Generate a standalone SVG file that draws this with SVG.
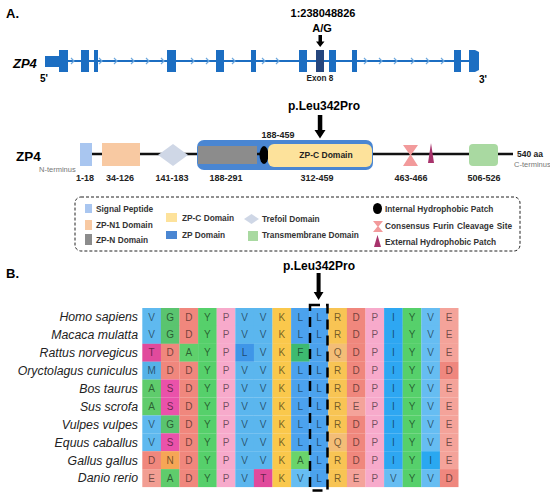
<svg xmlns="http://www.w3.org/2000/svg" width="550" height="497" viewBox="0 0 550 497">
<defs>
<style>
text{font-family:"Liberation Sans",Arial,sans-serif}
.b{font-weight:bold}
.ex{fill:#1c6ec2}
.chev{fill:none;stroke:#6ea8dd;stroke-width:1.2}
.lab{font-size:9px;font-weight:bold;fill:#222;text-anchor:middle}
.leg{font-size:8.3px;font-weight:bold;fill:#333}
.sp{font-size:12.3px;font-style:italic;fill:#222;text-anchor:end}
.aa{font-size:10px;fill:#000;fill-opacity:0.55;text-anchor:middle}
.gray{font-size:7.5px;fill:#777}
</style>
</defs>
<rect width="550" height="497" fill="#fff"/>

<g id="panelA-title"><text x="6" y="18" class="b" font-size="13">A.</text></g>

<g id="gene">
<text x="13" y="68" class="b" font-size="13" font-style="italic">ZP4</text>
<line x1="45" y1="61" x2="476" y2="61" stroke="#1c6ec2" stroke-width="2"/>
<rect class="ex" x="45" y="56" width="15" height="11"/>
<rect class="ex" x="59" y="50" width="9" height="22"/>
<rect class="ex" x="81" y="50" width="8" height="22"/>
<rect class="ex" x="94" y="50" width="4" height="22"/>
<rect class="ex" x="167" y="50" width="9" height="22"/>
<rect class="ex" x="216" y="50" width="8" height="22"/>
<rect class="ex" x="251" y="50" width="5" height="22"/>
<rect class="ex" x="299" y="50" width="8" height="22"/>
<rect x="316" y="50" width="8" height="22" fill="#25467e"/>
<rect class="ex" x="329" y="50" width="7" height="22"/>
<rect class="ex" x="352" y="50" width="5" height="22"/>
<rect class="ex" x="454" y="50" width="7" height="22"/>
<path class="ex" d="M469 50 H475 L479 52 V70 L475 72 H469 Z"/>
<g>
<polyline class="chev" points="71,58 74,61 71,64"/>
<polyline class="chev" points="99,58 102,61 99,64"/>
<polyline class="chev" points="114,58 117,61 114,64"/>
<polyline class="chev" points="131,58 134,61 131,64"/>
<polyline class="chev" points="146,58 149,61 146,64"/>
<polyline class="chev" points="161,58 164,61 161,64"/>
<polyline class="chev" points="191,58 194,61 191,64"/>
<polyline class="chev" points="206,58 209,61 206,64"/>
<polyline class="chev" points="232,58 235,61 232,64"/>
<polyline class="chev" points="262,58 265,61 262,64"/>
<polyline class="chev" points="276,58 279,61 276,64"/>
<polyline class="chev" points="364,58 367,61 364,64"/>
<polyline class="chev" points="379,58 382,61 379,64"/>
<polyline class="chev" points="394,58 397,61 394,64"/>
<polyline class="chev" points="411,58 414,61 411,64"/>
<polyline class="chev" points="426,58 429,61 426,64"/>
<polyline class="chev" points="441,58 444,61 441,64"/>
</g>
<text x="40" y="82" class="b" font-size="10">5'</text>
<text x="479" y="83" class="b" font-size="10">3'</text>
<text x="320" y="81" class="b" font-size="8.2" text-anchor="middle" fill="#222">Exon 8</text>
<text x="323" y="17" class="b" font-size="11" text-anchor="middle">1:238048826</text>
<text x="322" y="32" class="b" font-size="11" text-anchor="middle">A/G</text>
</g>

<g id="protein">
<text x="16" y="161" class="b" font-size="13.5">ZP4</text>
<text x="39" y="172" class="gray">N-terminus</text>
<line x1="92" y1="154" x2="513" y2="154" stroke="#111" stroke-width="2.5"/>
<rect id="signal" x="80" y="143" width="12" height="23" fill="#a9c6f0"/>
<rect id="zpn1" x="102" y="143" width="38" height="23" fill="#f8c9a2"/>
<polygon id="trefoil" points="158,155 173,144 188,155 173,166" fill="#cfd7e6"/>
<rect id="zp" x="197" y="140" width="176" height="30" rx="7" fill="#4a86d2"/>
<rect id="zpn" x="198" y="146" width="59" height="18" fill="#8c8c8c"/>
<line x1="257" y1="154" x2="262" y2="154" stroke="#111" stroke-width="2.5"/>
<ellipse id="ihp" cx="264" cy="155" rx="4.5" ry="9" fill="#000"/>
<rect id="zpc" x="268" y="144" width="104" height="23" rx="6" fill="#fde29b"/>
<text x="326" y="158" class="b" font-size="8.5" text-anchor="middle" fill="#222">ZP-C Domain</text>
<polygon id="furin" points="403,145 418,145 411,155 418,166 403,166 410,155" fill="#f29a9b"/>
<polygon id="ehp" points="431,143 434,163 428,163" fill="#a8336c"/>
<rect id="tm" x="469" y="144" width="29" height="22" rx="4" fill="#a9d9a1"/>
<text x="517" y="157" class="b" font-size="8.5" fill="#222">540 aa</text>
<text x="514" y="167" class="gray" font-size="6.5">C-terminus</text>
<text x="278" y="138" class="lab">188-459</text>
<text x="85" y="181" class="lab">1-18</text>
<text x="120" y="181" class="lab">34-126</text>
<text x="172" y="181" class="lab">141-183</text>
<text x="226" y="181" class="lab">188-291</text>
<text x="317" y="181" class="lab">312-459</text>
<text x="411" y="181" class="lab">463-466</text>
<text x="484" y="181" class="lab">506-526</text>
<text x="324" y="110" class="b" font-size="12" text-anchor="middle">p.Leu342Pro</text>
</g>

<g id="legend">
<rect x="75" y="197" width="445" height="54" rx="6" fill="none" stroke="#222" stroke-width="1" stroke-dasharray="3 2"/>
<rect x="85" y="204" width="7" height="9" fill="#a9c6f0"/>
<text x="96" y="212" class="leg">Signal Peptide</text>
<rect x="85" y="220" width="7" height="10" fill="#f8c9a2"/>
<text x="96" y="228" class="leg">ZP-N1 Domain</text>
<rect x="85" y="234" width="7" height="11" fill="#8c8c8c"/>
<text x="96" y="243" class="leg">ZP-N Domain</text>
<rect x="166" y="213" width="11" height="9" fill="#fde29b"/>
<text x="182" y="221" class="leg">ZP-C Domain</text>
<rect x="166" y="231" width="11" height="8" fill="#4a86d2"/>
<text x="182" y="238" class="leg">ZP Domain</text>
<polygon points="244,219 251.5,214 259,219 251.5,224" fill="#cfd7e6"/>
<text x="262" y="222" class="leg">Trefoil Domain</text>
<rect x="248" y="231" width="10" height="10" fill="#a9d9a1"/>
<text x="262" y="238" class="leg">Transmembrane Domain</text>
<ellipse cx="377.5" cy="208.5" rx="4.5" ry="5.5" fill="#000"/>
<text x="385" y="212" class="leg">Internal Hydrophobic Patch</text>
<polygon points="373,221 383,221 378.5,226.5 383,232 373,232 377.5,226.5" fill="#f29a9b"/>
<text x="385" y="229" class="leg" word-spacing="1">Consensus Furin Cleavage Site</text>
<polygon points="377.5,235 381,247 374,247" fill="#a8336c"/>
<text x="385" y="245" class="leg">External Hydrophobic Patch</text>
</g>

<g id="panelB-title"><text x="6" y="278" class="b" font-size="13">B.</text>
<text x="319" y="270" class="b" font-size="12" text-anchor="middle">p.Leu342Pro</text></g>

<g id="species">
<text x="138" y="321" class="sp">Homo sapiens</text>
<text x="138" y="339" class="sp">Macaca mulatta</text>
<text x="138" y="357" class="sp">Rattus norvegicus</text>
<text x="138" y="375" class="sp">Oryctolagus cuniculus</text>
<text x="138" y="393" class="sp">Bos taurus</text>
<text x="138" y="411" class="sp">Sus scrofa</text>
<text x="138" y="429" class="sp">Vulpes vulpes</text>
<text x="138" y="447" class="sp">Equus caballus</text>
<text x="138" y="465" class="sp">Gallus gallus</text>
<text x="138" y="482" class="sp">Danio rerio</text>
</g>

<g id="alignment">
<g transform="translate(0,308)">
<rect x="142.3" width="18.7" height="18" fill="#5fb9ef"/><rect x="160.9" width="18.7" height="18" fill="#5ac46f"/><rect x="179.5" width="18.7" height="18" fill="#f0877d"/><rect x="198.1" width="18.7" height="18" fill="#56d06b"/><rect x="216.7" width="18.7" height="18" fill="#f7aacb"/><rect x="235.3" width="18.7" height="18" fill="#5bb6ee"/><rect x="253.9" width="18.7" height="18" fill="#5bb6ee"/><rect x="272.5" width="18.7" height="18" fill="#fac84c"/><rect x="291.1" width="18.7" height="18" fill="#4ba2ee"/><rect x="309.7" width="18.7" height="18" fill="#4ba2ee"/><rect x="328.3" width="18.7" height="18" fill="#f8c454"/><rect x="346.9" width="18.7" height="18" fill="#f0877d"/><rect x="365.5" width="18.7" height="18" fill="#f7aacb"/><rect x="384.1" width="18.7" height="18" fill="#2ea7f2"/><rect x="402.7" width="18.7" height="18" fill="#56d06b"/><rect x="421.3" width="18.7" height="18" fill="#66bdf2"/><rect x="439.9" width="18.6" height="18" fill="#f4a39a"/>
<text y="12.6" class="aa"><tspan x="151.6">V</tspan><tspan x="170.2">G</tspan><tspan x="188.8">D</tspan><tspan x="207.4">Y</tspan><tspan x="226">P</tspan><tspan x="244.6">V</tspan><tspan x="263.2">V</tspan><tspan x="281.8">K</tspan><tspan x="300.4">L</tspan><tspan x="319">L</tspan><tspan x="337.6">R</tspan><tspan x="356.2">D</tspan><tspan x="374.8">P</tspan><tspan x="393.4">I</tspan><tspan x="412">Y</tspan><tspan x="430.6">V</tspan><tspan x="449.2">E</tspan></text>
</g>
<g transform="translate(0,325.9)">
<rect x="142.3" width="18.7" height="18" fill="#5fb9ef"/><rect x="160.9" width="18.7" height="18" fill="#5ac46f"/><rect x="179.5" width="18.7" height="18" fill="#f0877d"/><rect x="198.1" width="18.7" height="18" fill="#56d06b"/><rect x="216.7" width="18.7" height="18" fill="#f7aacb"/><rect x="235.3" width="18.7" height="18" fill="#5bb6ee"/><rect x="253.9" width="18.7" height="18" fill="#5bb6ee"/><rect x="272.5" width="18.7" height="18" fill="#fac84c"/><rect x="291.1" width="18.7" height="18" fill="#4ba2ee"/><rect x="309.7" width="18.7" height="18" fill="#4ba2ee"/><rect x="328.3" width="18.7" height="18" fill="#f8c454"/><rect x="346.9" width="18.7" height="18" fill="#f0877d"/><rect x="365.5" width="18.7" height="18" fill="#f7aacb"/><rect x="384.1" width="18.7" height="18" fill="#2ea7f2"/><rect x="402.7" width="18.7" height="18" fill="#56d06b"/><rect x="421.3" width="18.7" height="18" fill="#66bdf2"/><rect x="439.9" width="18.6" height="18" fill="#f4a39a"/>
<text y="12.6" class="aa"><tspan x="151.6">V</tspan><tspan x="170.2">G</tspan><tspan x="188.8">D</tspan><tspan x="207.4">Y</tspan><tspan x="226">P</tspan><tspan x="244.6">V</tspan><tspan x="263.2">V</tspan><tspan x="281.8">K</tspan><tspan x="300.4">L</tspan><tspan x="319">L</tspan><tspan x="337.6">R</tspan><tspan x="356.2">D</tspan><tspan x="374.8">P</tspan><tspan x="393.4">I</tspan><tspan x="412">Y</tspan><tspan x="430.6">V</tspan><tspan x="449.2">E</tspan></text>
</g>
<g transform="translate(0,343.8)">
<rect x="142.3" width="18.7" height="18" fill="#e14a9c"/><rect x="160.9" width="18.7" height="18" fill="#f0877d"/><rect x="179.5" width="18.7" height="18" fill="#5fd06c"/><rect x="198.1" width="18.7" height="18" fill="#56d06b"/><rect x="216.7" width="18.7" height="18" fill="#f7aacb"/><rect x="235.3" width="18.7" height="18" fill="#3f96e8"/><rect x="253.9" width="18.7" height="18" fill="#5bb6ee"/><rect x="272.5" width="18.7" height="18" fill="#fac84c"/><rect x="291.1" width="18.7" height="18" fill="#3dba70"/><rect x="309.7" width="18.7" height="18" fill="#4ba2ee"/><rect x="328.3" width="18.7" height="18" fill="#f3bd77"/><rect x="346.9" width="18.7" height="18" fill="#f0877d"/><rect x="365.5" width="18.7" height="18" fill="#f7aacb"/><rect x="384.1" width="18.7" height="18" fill="#2ea7f2"/><rect x="402.7" width="18.7" height="18" fill="#56d06b"/><rect x="421.3" width="18.7" height="18" fill="#66bdf2"/><rect x="439.9" width="18.6" height="18" fill="#f4a39a"/>
<text y="12.6" class="aa"><tspan x="151.6">T</tspan><tspan x="170.2">D</tspan><tspan x="188.8">A</tspan><tspan x="207.4">Y</tspan><tspan x="226">P</tspan><tspan x="244.6">L</tspan><tspan x="263.2">V</tspan><tspan x="281.8">K</tspan><tspan x="300.4">F</tspan><tspan x="319">L</tspan><tspan x="337.6">Q</tspan><tspan x="356.2">D</tspan><tspan x="374.8">P</tspan><tspan x="393.4">I</tspan><tspan x="412">Y</tspan><tspan x="430.6">V</tspan><tspan x="449.2">E</tspan></text>
</g>
<g transform="translate(0,361.7)">
<rect x="142.3" width="18.7" height="18" fill="#55b2e8"/><rect x="160.9" width="18.7" height="18" fill="#f0877d"/><rect x="179.5" width="18.7" height="18" fill="#f0877d"/><rect x="198.1" width="18.7" height="18" fill="#56d06b"/><rect x="216.7" width="18.7" height="18" fill="#f7aacb"/><rect x="235.3" width="18.7" height="18" fill="#5bb6ee"/><rect x="253.9" width="18.7" height="18" fill="#5bb6ee"/><rect x="272.5" width="18.7" height="18" fill="#fac84c"/><rect x="291.1" width="18.7" height="18" fill="#4ba2ee"/><rect x="309.7" width="18.7" height="18" fill="#4ba2ee"/><rect x="328.3" width="18.7" height="18" fill="#f8c454"/><rect x="346.9" width="18.7" height="18" fill="#f0877d"/><rect x="365.5" width="18.7" height="18" fill="#f7aacb"/><rect x="384.1" width="18.7" height="18" fill="#2ea7f2"/><rect x="402.7" width="18.7" height="18" fill="#56d06b"/><rect x="421.3" width="18.7" height="18" fill="#66bdf2"/><rect x="439.9" width="18.6" height="18" fill="#ef877e"/>
<text y="12.6" class="aa"><tspan x="151.6">M</tspan><tspan x="170.2">D</tspan><tspan x="188.8">D</tspan><tspan x="207.4">Y</tspan><tspan x="226">P</tspan><tspan x="244.6">V</tspan><tspan x="263.2">V</tspan><tspan x="281.8">K</tspan><tspan x="300.4">L</tspan><tspan x="319">L</tspan><tspan x="337.6">R</tspan><tspan x="356.2">D</tspan><tspan x="374.8">P</tspan><tspan x="393.4">I</tspan><tspan x="412">Y</tspan><tspan x="430.6">V</tspan><tspan x="449.2">D</tspan></text>
</g>
<g transform="translate(0,379.6)">
<rect x="142.3" width="18.7" height="18" fill="#5fcc6c"/><rect x="160.9" width="18.7" height="18" fill="#ea52aa"/><rect x="179.5" width="18.7" height="18" fill="#f0877d"/><rect x="198.1" width="18.7" height="18" fill="#56d06b"/><rect x="216.7" width="18.7" height="18" fill="#f7aacb"/><rect x="235.3" width="18.7" height="18" fill="#5bb6ee"/><rect x="253.9" width="18.7" height="18" fill="#5bb6ee"/><rect x="272.5" width="18.7" height="18" fill="#fac84c"/><rect x="291.1" width="18.7" height="18" fill="#4ba2ee"/><rect x="309.7" width="18.7" height="18" fill="#4ba2ee"/><rect x="328.3" width="18.7" height="18" fill="#f8c454"/><rect x="346.9" width="18.7" height="18" fill="#f0877d"/><rect x="365.5" width="18.7" height="18" fill="#f7aacb"/><rect x="384.1" width="18.7" height="18" fill="#2ea7f2"/><rect x="402.7" width="18.7" height="18" fill="#56d06b"/><rect x="421.3" width="18.7" height="18" fill="#66bdf2"/><rect x="439.9" width="18.6" height="18" fill="#f4a39a"/>
<text y="12.6" class="aa"><tspan x="151.6">A</tspan><tspan x="170.2">S</tspan><tspan x="188.8">D</tspan><tspan x="207.4">Y</tspan><tspan x="226">P</tspan><tspan x="244.6">V</tspan><tspan x="263.2">V</tspan><tspan x="281.8">K</tspan><tspan x="300.4">L</tspan><tspan x="319">L</tspan><tspan x="337.6">R</tspan><tspan x="356.2">D</tspan><tspan x="374.8">P</tspan><tspan x="393.4">I</tspan><tspan x="412">Y</tspan><tspan x="430.6">V</tspan><tspan x="449.2">E</tspan></text>
</g>
<g transform="translate(0,397.5)">
<rect x="142.3" width="18.7" height="18" fill="#5fcc6c"/><rect x="160.9" width="18.7" height="18" fill="#ea52aa"/><rect x="179.5" width="18.7" height="18" fill="#f0877d"/><rect x="198.1" width="18.7" height="18" fill="#56d06b"/><rect x="216.7" width="18.7" height="18" fill="#f7aacb"/><rect x="235.3" width="18.7" height="18" fill="#5bb6ee"/><rect x="253.9" width="18.7" height="18" fill="#5bb6ee"/><rect x="272.5" width="18.7" height="18" fill="#fac84c"/><rect x="291.1" width="18.7" height="18" fill="#4ba2ee"/><rect x="309.7" width="18.7" height="18" fill="#4ba2ee"/><rect x="328.3" width="18.7" height="18" fill="#f8c454"/><rect x="346.9" width="18.7" height="18" fill="#f4a39a"/><rect x="365.5" width="18.7" height="18" fill="#f7aacb"/><rect x="384.1" width="18.7" height="18" fill="#2ea7f2"/><rect x="402.7" width="18.7" height="18" fill="#56d06b"/><rect x="421.3" width="18.7" height="18" fill="#66bdf2"/><rect x="439.9" width="18.6" height="18" fill="#f4a39a"/>
<text y="12.6" class="aa"><tspan x="151.6">A</tspan><tspan x="170.2">S</tspan><tspan x="188.8">D</tspan><tspan x="207.4">Y</tspan><tspan x="226">P</tspan><tspan x="244.6">V</tspan><tspan x="263.2">V</tspan><tspan x="281.8">K</tspan><tspan x="300.4">L</tspan><tspan x="319">L</tspan><tspan x="337.6">R</tspan><tspan x="356.2">E</tspan><tspan x="374.8">P</tspan><tspan x="393.4">I</tspan><tspan x="412">Y</tspan><tspan x="430.6">V</tspan><tspan x="449.2">E</tspan></text>
</g>
<g transform="translate(0,415.4)">
<rect x="142.3" width="18.7" height="18" fill="#5fb9ef"/><rect x="160.9" width="18.7" height="18" fill="#5ac46f"/><rect x="179.5" width="18.7" height="18" fill="#f0877d"/><rect x="198.1" width="18.7" height="18" fill="#56d06b"/><rect x="216.7" width="18.7" height="18" fill="#f7aacb"/><rect x="235.3" width="18.7" height="18" fill="#5bb6ee"/><rect x="253.9" width="18.7" height="18" fill="#5bb6ee"/><rect x="272.5" width="18.7" height="18" fill="#fac84c"/><rect x="291.1" width="18.7" height="18" fill="#4ba2ee"/><rect x="309.7" width="18.7" height="18" fill="#4ba2ee"/><rect x="328.3" width="18.7" height="18" fill="#f8c454"/><rect x="346.9" width="18.7" height="18" fill="#f0877d"/><rect x="365.5" width="18.7" height="18" fill="#f7aacb"/><rect x="384.1" width="18.7" height="18" fill="#2ea7f2"/><rect x="402.7" width="18.7" height="18" fill="#56d06b"/><rect x="421.3" width="18.7" height="18" fill="#66bdf2"/><rect x="439.9" width="18.6" height="18" fill="#f4a39a"/>
<text y="12.6" class="aa"><tspan x="151.6">V</tspan><tspan x="170.2">G</tspan><tspan x="188.8">D</tspan><tspan x="207.4">Y</tspan><tspan x="226">P</tspan><tspan x="244.6">V</tspan><tspan x="263.2">V</tspan><tspan x="281.8">K</tspan><tspan x="300.4">L</tspan><tspan x="319">L</tspan><tspan x="337.6">R</tspan><tspan x="356.2">D</tspan><tspan x="374.8">P</tspan><tspan x="393.4">I</tspan><tspan x="412">Y</tspan><tspan x="430.6">V</tspan><tspan x="449.2">E</tspan></text>
</g>
<g transform="translate(0,433.3)">
<rect x="142.3" width="18.7" height="18" fill="#5fb9ef"/><rect x="160.9" width="18.7" height="18" fill="#ea52aa"/><rect x="179.5" width="18.7" height="18" fill="#f0877d"/><rect x="198.1" width="18.7" height="18" fill="#56d06b"/><rect x="216.7" width="18.7" height="18" fill="#f7aacb"/><rect x="235.3" width="18.7" height="18" fill="#5bb6ee"/><rect x="253.9" width="18.7" height="18" fill="#5bb6ee"/><rect x="272.5" width="18.7" height="18" fill="#fac84c"/><rect x="291.1" width="18.7" height="18" fill="#4ba2ee"/><rect x="309.7" width="18.7" height="18" fill="#4ba2ee"/><rect x="328.3" width="18.7" height="18" fill="#f3bd77"/><rect x="346.9" width="18.7" height="18" fill="#f0877d"/><rect x="365.5" width="18.7" height="18" fill="#f7aacb"/><rect x="384.1" width="18.7" height="18" fill="#2ea7f2"/><rect x="402.7" width="18.7" height="18" fill="#56d06b"/><rect x="421.3" width="18.7" height="18" fill="#66bdf2"/><rect x="439.9" width="18.6" height="18" fill="#f4a39a"/>
<text y="12.6" class="aa"><tspan x="151.6">V</tspan><tspan x="170.2">S</tspan><tspan x="188.8">D</tspan><tspan x="207.4">Y</tspan><tspan x="226">P</tspan><tspan x="244.6">V</tspan><tspan x="263.2">V</tspan><tspan x="281.8">K</tspan><tspan x="300.4">L</tspan><tspan x="319">L</tspan><tspan x="337.6">Q</tspan><tspan x="356.2">D</tspan><tspan x="374.8">P</tspan><tspan x="393.4">I</tspan><tspan x="412">Y</tspan><tspan x="430.6">V</tspan><tspan x="449.2">E</tspan></text>
</g>
<g transform="translate(0,451.2)">
<rect x="142.3" width="18.7" height="18" fill="#f0877d"/><rect x="160.9" width="18.7" height="18" fill="#f6a656"/><rect x="179.5" width="18.7" height="18" fill="#f0877d"/><rect x="198.1" width="18.7" height="18" fill="#56d06b"/><rect x="216.7" width="18.7" height="18" fill="#f7aacb"/><rect x="235.3" width="18.7" height="18" fill="#5bb6ee"/><rect x="253.9" width="18.7" height="18" fill="#5bb6ee"/><rect x="272.5" width="18.7" height="18" fill="#fac84c"/><rect x="291.1" width="18.7" height="18" fill="#6ad46b"/><rect x="309.7" width="18.7" height="18" fill="#4ba2ee"/><rect x="328.3" width="18.7" height="18" fill="#f8c454"/><rect x="346.9" width="18.7" height="18" fill="#f0877d"/><rect x="365.5" width="18.7" height="18" fill="#f7aacb"/><rect x="384.1" width="18.7" height="18" fill="#2ea7f2"/><rect x="402.7" width="18.7" height="18" fill="#56d06b"/><rect x="421.3" width="18.7" height="18" fill="#2aa8f0"/><rect x="439.9" width="18.6" height="18" fill="#f4a39a"/>
<text y="12.6" class="aa"><tspan x="151.6">D</tspan><tspan x="170.2">N</tspan><tspan x="188.8">D</tspan><tspan x="207.4">Y</tspan><tspan x="226">P</tspan><tspan x="244.6">V</tspan><tspan x="263.2">V</tspan><tspan x="281.8">K</tspan><tspan x="300.4">A</tspan><tspan x="319">L</tspan><tspan x="337.6">R</tspan><tspan x="356.2">D</tspan><tspan x="374.8">P</tspan><tspan x="393.4">I</tspan><tspan x="412">Y</tspan><tspan x="430.6">I</tspan><tspan x="449.2">E</tspan></text>
</g>
<g transform="translate(0,469.1)">
<rect x="142.3" width="18.7" height="18" fill="#f29e93"/><rect x="160.9" width="18.7" height="18" fill="#5fcc6c"/><rect x="179.5" width="18.7" height="18" fill="#f0877d"/><rect x="198.1" width="18.7" height="18" fill="#56d06b"/><rect x="216.7" width="18.7" height="18" fill="#f7aacb"/><rect x="235.3" width="18.7" height="18" fill="#5bb6ee"/><rect x="253.9" width="18.7" height="18" fill="#e14a9c"/><rect x="272.5" width="18.7" height="18" fill="#fac84c"/><rect x="291.1" width="18.7" height="18" fill="#66bdf2"/><rect x="309.7" width="18.7" height="18" fill="#4ba2ee"/><rect x="328.3" width="18.7" height="18" fill="#f8c454"/><rect x="346.9" width="18.7" height="18" fill="#f4a39a"/><rect x="365.5" width="18.7" height="18" fill="#f7aacb"/><rect x="384.1" width="18.7" height="18" fill="#66bdf2"/><rect x="402.7" width="18.7" height="18" fill="#56d06b"/><rect x="421.3" width="18.7" height="18" fill="#66bdf2"/><rect x="439.9" width="18.6" height="18" fill="#ef877e"/>
<text y="12.6" class="aa"><tspan x="151.6">E</tspan><tspan x="170.2">A</tspan><tspan x="188.8">D</tspan><tspan x="207.4">Y</tspan><tspan x="226">P</tspan><tspan x="244.6">V</tspan><tspan x="263.2">T</tspan><tspan x="281.8">K</tspan><tspan x="300.4">V</tspan><tspan x="319">L</tspan><tspan x="337.6">R</tspan><tspan x="356.2">E</tspan><tspan x="374.8">P</tspan><tspan x="393.4">V</tspan><tspan x="412">Y</tspan><tspan x="430.6">V</tspan><tspan x="449.2">D</tspan></text>
</g>
<rect id="highlight" x="310" y="305" width="17.5" height="185.5" fill="none" stroke="#000" stroke-width="2.5" stroke-dasharray="10 6"/>
</g>

<g id="connectors">
<path d="M318.5 35 H322 V41.5 H324.5 L320.2 47 L316 41.5 H318.5 Z" fill="#000"/>
<path d="M317.8 115 H322.3 V130 H325.5 L320 138.5 L314.5 130 H317.8 Z" fill="#000"/>
<path d="M316.6 273 H320.6 V292 H323.5 L318.6 300 L313.7 292 H316.6 Z" fill="#000"/>
</g>
</svg>
